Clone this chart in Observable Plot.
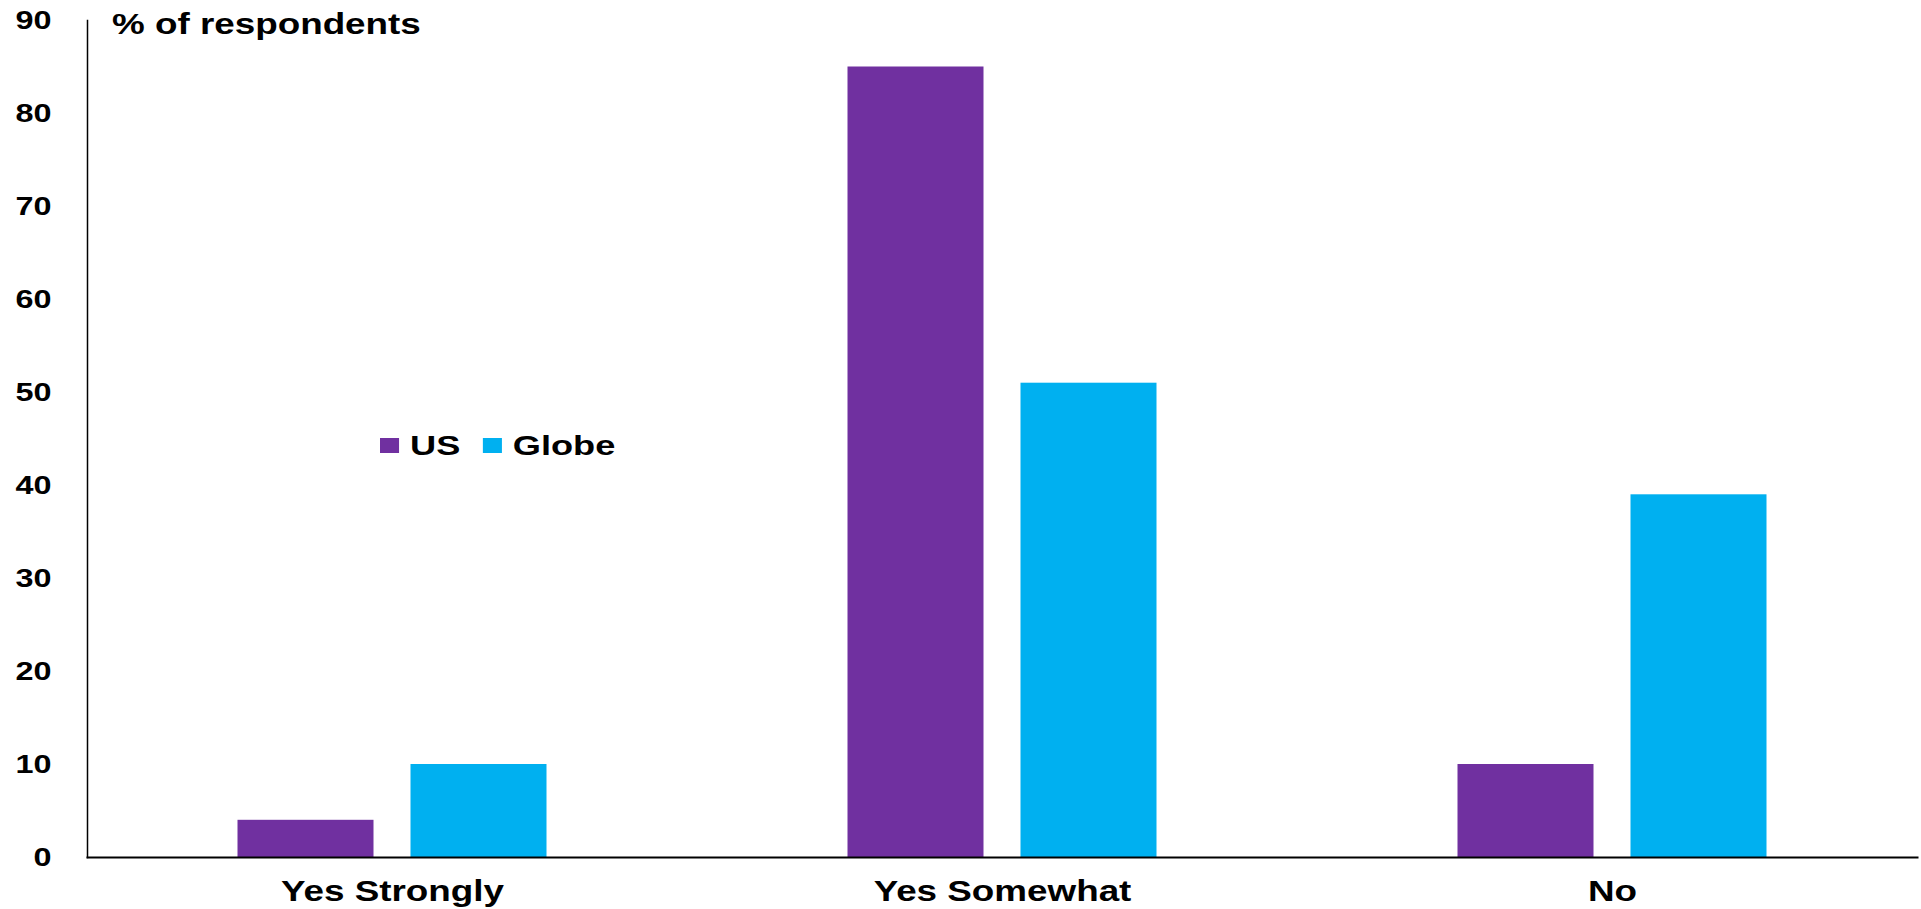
<!DOCTYPE html>
<html>
<head>
<meta charset="utf-8">
<script src="https://cdn.jsdelivr.net/npm/d3@7"></script>
<script src="https://cdn.jsdelivr.net/npm/@observablehq/plot@0.6"></script>
<style>
  html, body { margin: 0; padding: 0; background: #fff; }
  #wrap { position: relative; width: 1921px; height: 909px; overflow: hidden; }
  #legend {
    position: absolute; left: 380px; top: 431px;
    display: flex; align-items: center;
    font-family: 'Liberation Sans', Arial, sans-serif; font-weight: bold;
    font-size: 28.5px; line-height: 1; color: #000;
    transform: scaleX(1.27); transform-origin: left center; white-space: nowrap;
  }
  #legend .sw { width: 15px; height: 14.5px; margin-right: 8.7px; }
  #legend .item { display: flex; align-items: center; margin-right: 17.6px; }
</style>
</head>
<body>
<div id="wrap"></div>
<script>
const categories = ["Yes Strongly", "Yes Somewhat", "No"];
const series = ["US", "Globe"];
const usValues = [4, 85, 10];
const globeValues = [10, 51, 39];
const yTicks = [0, 10, 20, 30, 40, 50, 60, 70, 80, 90];
const colors = ["#7030A0", "#00B0F0"];
const titleText = "% of respondents";

const data = categories.flatMap((c, i) => [
  {category: c, series: "US", value: usValues[i]},
  {category: c, series: "Globe", value: globeValues[i]}
]);

const stretch = 1.27;

const plot = Plot.plot({
  width: 1921,
  height: 909,
  marginLeft: 85.5,
  marginRight: 3,
  marginTop: 20,
  marginBottom: 52,
  style: {fontFamily: "'Liberation Sans', Arial, sans-serif", fontWeight: "bold", color: "#000", background: "#fff", overflow: "visible"},
  fx: {domain: categories, padding: 0},
  x: {domain: series, paddingInner: 0.213, paddingOuter: 0.867, axis: null},
  y: {domain: [0, 90]},
  color: {domain: series, range: colors},
  marks: [
    Plot.barY(data, {fx: "category", x: "series", y: "value", fill: "series"}),
    Plot.axisY({ticks: yTicks, tickSize: 0, tickPadding: 36, fontSize: 25.5, label: null, anchor: "left"}),
    Plot.axisFx({tickSize: 0, tickPadding: 23, fontSize: 29, label: null, anchor: "bottom"}),
    Plot.frame({anchor: "left", facet: "super", stroke: "#000", strokeWidth: 1.5}),
    Plot.frame({anchor: "bottom", facet: "super", stroke: "#000", strokeWidth: 2}),
    Plot.text([titleText], {frameAnchor: "top-left", facet: "super", dx: 24.5, dy: -7, fontSize: 29, textAnchor: "start"})
  ]
});

// horizontally stretched lettering, as in the reference: scale each text about its own anchor
plot.querySelectorAll("text").forEach(t => {
  const xa = t.getAttribute("x");
  const X = xa != null && /^-?[\d.]+$/.test(xa.trim()) ? +xa : 0;
  const tr = t.getAttribute("transform") || "";
  t.setAttribute("transform", `${tr} translate(${X},0) scale(${stretch},1) translate(${-X},0)`.trim());
});

const wrap = document.getElementById("wrap");
wrap.appendChild(plot);

const legend = document.createElement("div");
legend.id = "legend";
series.forEach((s, i) => {
  const item = document.createElement("div");
  item.className = "item";
  const sw = document.createElement("div");
  sw.className = "sw";
  sw.style.background = colors[i];
  const lab = document.createElement("span");
  lab.textContent = s;
  item.appendChild(sw); item.appendChild(lab);
  legend.appendChild(item);
});
wrap.appendChild(legend);
</script>
</body>
</html>
